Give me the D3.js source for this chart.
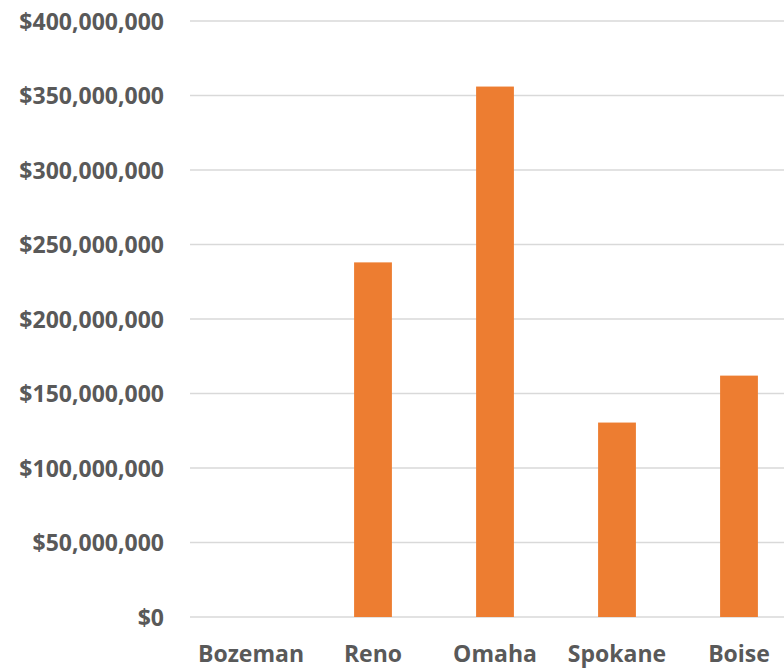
<!DOCTYPE html>
<html>
<head>
<meta charset="utf-8">
<script src="https://cdn.jsdelivr.net/npm/d3@7"></script>
<style>
  body { margin: 0; background: #fff; }
  svg text { font-family: "Open Sans", sans-serif; font-weight: bold; fill: #595959; }
</style>
</head>
<body>
<svg width="784" height="669"></svg>
<script>
var cities = ["Bozeman", "Reno", "Omaha", "Spokane", "Boise"];
var totals = [0, 238000000, 356000000, 130500000, 162000000];
var tickValues = [0, 50000000, 100000000, 150000000, 200000000, 250000000, 300000000, 350000000, 400000000];

var svg = d3.select("svg");
var plotLeft = 190, plotRight = 800, plotTop = 21, plotBottom = 617;

var x = d3.scaleBand()
    .domain(cities)
    .range([plotLeft, plotRight])
    .paddingInner(0.69)
    .paddingOuter(0.345);

var y = d3.scaleLinear()
    .domain([0, 400000000])
    .range([plotBottom, plotTop]);

var fmt = function(d) { return "$" + d3.format(",")(d); };

// gridlines
svg.append("g")
    .selectAll("line")
    .data(tickValues)
    .enter().append("line")
    .attr("x1", plotLeft)
    .attr("x2", plotRight)
    .attr("y1", function(d) { return y(d); })
    .attr("y2", function(d) { return y(d); })
    .style("stroke", "#d9d9d9")
    .style("stroke-width", 1.5);

// y axis labels
var yAxis = svg.append("g")
    .attr("transform", "translate(164,0)")
    .call(d3.axisLeft(y).tickValues(tickValues).tickFormat(fmt).tickSize(0).tickPadding(0));
yAxis.select(".domain").remove();
yAxis.selectAll("text")
    .style("font-size", "23px")
    .attr("dy", "0.35em")
    .attr("fill", null);

// bars
svg.append("g")
    .selectAll("rect")
    .data(cities)
    .enter().append("rect")
    .attr("x", function(d) { return x(d); })
    .attr("width", x.bandwidth())
    .attr("y", function(d, i) { return y(totals[i]); })
    .attr("height", function(d, i) { return plotBottom - y(totals[i]); })
    .style("fill", "#ED7D31");

// x axis labels
var xAxis = svg.append("g")
    .attr("transform", "translate(0," + plotBottom + ")")
    .call(d3.axisBottom(x).tickSize(0).tickPadding(0));
xAxis.select(".domain").remove();
xAxis.selectAll("text")
    .attr("y", 45)
    .attr("dy", 0)
    .attr("fill", null)
    .style("font-size", "23px");
</script>
</body>
</html>
